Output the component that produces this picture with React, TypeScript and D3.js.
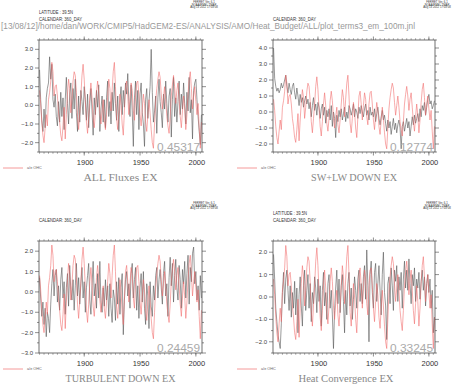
import React from "react";
import * as d3 from "d3";

const YEARS: number[] = d3.range(1860, 2006);

const OHC: number[] = [
  0.8, 0.1, -0.9, -1.6, -2.0, -1.2, -0.5, -1.1, 0.3, 0.7,
  1.3, 2.3, 1.8, 0.5, 1.0, 1.1, 0.5, -0.4, -0.9, -1.6,
  -1.9, -1.1, -0.1, -1.8, -0.5, 0.6, 1.4, 0.9, -0.4, 0.3,
  1.3, 1.8, 1.6, 0.7, -0.6, -1.3, -0.4, 0.5, 1.6, 2.2,
  1.4, 0.2, -0.9, -1.5, -0.6, 0.5, 1.2, 0.4, -0.7, -1.2,
  -0.4, 0.7, 1.3, 0.7, -0.4, -1.0, -0.3, 0.3, -0.8, -1.3,
  -0.5, 0.5, 1.4, 0.9, -0.3, 0.8, 1.8, 2.3, 1.0, -0.7,
  -1.3, -0.4, 0.6, 0.0, -1.0, -1.6, -0.3, 1.0, 1.3, 0.5,
  -0.5, 0.4, 1.2, 0.8, -0.3, -0.8, 0.5, 1.2, 1.3, 0.5,
  -0.5, -1.1, -0.2, 0.6, 0.1, -0.9, -1.4, -0.5, 0.3, -0.4,
  -1.3, -2.0, -2.3, -1.0, 0.2, 0.9, 1.4, 1.8, 1.5, 0.6,
  -0.2, 0.4, 1.0, 0.3, -0.6, -1.1, -1.5, -0.6, 0.5, 1.1,
  1.6, 1.0, 0.1, 0.8, 1.2, 0.3, -0.6, -1.2, -0.3, 0.5,
  -0.2, -1.3, -0.5, 0.6, 1.4, 1.8, 0.9, -0.2, 0.5, 1.0,
  0.2, -0.5, 0.1, -1.2, -2.3, -0.9,
];

const ALL_FLUXES: number[] = [
  1.9, 0.3, -0.8, -1.4, -0.2, -1.2, 0.4, 0.9, 1.2, 2.6,
  1.4, 2.2, 0.3, -0.1, 0.6, -0.6, -1.1, 0.2, -0.9, 0.7,
  -0.6, 0.4, -1.3, 0.3, 1.5, 0.1, -1.0, 0.6, 1.2, -0.7,
  0.9, -0.2, 1.4, -0.4, -1.4, 0.5, -0.9, 0.8, 0.2, -0.5,
  1.0, 0.3, -0.8, 0.6, -1.2, 0.1, 0.9, -0.3, -1.6, 0.4,
  -0.5, 0.8, -0.1, 1.1, -1.4, -0.2, 0.5, -0.9, 0.3, -1.2,
  0.4, 1.3, -0.6, 0.2, -1.0, 0.7, -0.3, 1.2, 0.1, -0.8,
  0.5, -1.4, 0.3, 1.0, -0.5, 0.8, -0.1, 1.2, 0.6, 1.7,
  0.2, -0.6, 1.1, -0.3, -2.2, 0.4, 1.3, -0.5, 0.8, -1.3,
  0.6, 1.2, -0.4, -1.0, -2.2, 0.3, 0.9, -0.7, 0.2, 1.0,
  3.0, 0.7, -0.9, -0.3, 0.5, -1.5, 0.4, 1.4, 0.2, -0.4,
  -1.2, 0.6, -0.2, 1.3, 0.1, -0.9, 0.5, 0.9, -1.7, 0.3,
  1.5, -0.6, 0.4, -0.9, 0.2, 1.3, -0.5, 0.6, -0.2, 1.2,
  0.1, -1.0, 0.7, -0.3, 1.5, -0.4, 0.3, -1.8, 0.8, 1.2,
  1.4, 0.3, -0.6, -1.4, -2.1, -0.5,
];

const SW_LW: number[] = [
  4.0, 2.1, 1.6, 1.3, 1.5, 1.2, 1.4, 1.8, 1.5, 1.7,
  2.0, 2.3, 1.6, 1.2, 1.8, 1.4, 1.1, 1.6, 1.8, 1.2,
  0.8, 1.5, 1.0, 0.4, 1.1, 0.6, 0.9, 0.3, 0.7, 1.0,
  0.5, 0.8, 0.2, 0.6, -0.3, 0.4, 0.9, 0.1, 0.5, -0.2,
  0.6, 0.3, -0.4, 0.2, 0.5, -0.2, 0.3, -0.7, 0.1, -0.3,
  0.2, -0.5, 0.4, -0.9, 0.0, -0.4, -1.6, -0.2, -0.6, 0.1,
  -0.3, 0.2, -0.5, -0.1, 0.3, -0.6, 0.0, -0.4, 0.4, 0.2,
  -0.2, 0.1, 0.5, -0.3, 0.2, 0.0, -0.4, 0.3, -0.1, 0.4,
  0.0, -0.3, 0.2, 0.5, -0.2, 0.1, -0.5, 0.3, -0.2, 0.0,
  -0.3, 0.2, -0.6, -0.1, 0.3, -0.4, -0.8, -0.3, 0.1, -0.5,
  -0.2, -0.7, -1.2, -0.5, -1.0, -0.6, -1.4, -0.9, -0.4, -1.1,
  -0.7, -1.3, -0.8, -0.5, -1.0, -2.3, -0.9, -0.6, -1.2, -0.8,
  -0.4, -1.0, -0.6, -1.5, -0.9, -0.3, -0.8, -0.2, -0.7, -0.4,
  -0.1, -0.6, 0.2, -0.3, 0.4, 0.1, 0.6, -0.2, 0.3, 0.8,
  1.1, 0.5, 0.7, 0.2, 0.4, 0.7,
];

const TURBULENT: number[] = [
  0.7, -0.3, -1.2, -0.5, -1.6, -0.8, -2.2, -1.0, -1.3, -2.0,
  -0.6, 0.4, 1.1, -0.2, 0.8, 1.1, -0.5, 0.3, -0.9, 0.6,
  1.2, -0.3, 0.5, -1.1, 0.2, 0.9, -0.7, 1.3, 0.1, -0.4,
  0.6, -0.9, 0.3, 1.4, -0.2, 0.7, -0.6, 0.4, 1.2, -0.3,
  0.5, -1.0, 0.2, 0.8, 1.4, -0.4, -1.1, 0.3, 1.5, -0.2,
  0.4, -0.8, 0.9, -0.3, 1.5, -0.5, -1.0, 0.2, -0.7, 0.6,
  -0.4, 0.3, -1.2, 0.4, -0.8, -1.5, 0.1, -0.3, -1.4, 0.5,
  -0.6, 0.7, -1.1, 0.2, 0.9, -2.1, -0.4, 0.6, 1.0, -0.2,
  0.4, -0.8, 0.9, 1.4, -0.3, 0.6, 1.2, -0.9, 0.3, -1.3,
  0.2, 0.9, -0.5, 1.0, -0.8, -1.6, 0.4, -0.2, -1.8, 0.5,
  -0.7, -1.2, 0.3, -0.4, 0.8, 1.2, -0.3, 0.6, 1.1, 0.2,
  -0.6, 0.9, 1.5, -0.2, 0.4, -1.2, 0.7, 1.7, 0.3, 1.4,
  -0.5, 0.8, 1.6, 0.2, -0.4, 1.3, 0.6, -0.8, 1.1, 0.4,
  1.5, -0.3, 0.9, 1.8, -0.6, 1.2, 0.5, 1.9, 2.2, 0.4,
  1.0, -0.4, 0.3, -0.9, 0.8, -0.3,
];

const HEAT_CONV: number[] = [
  1.9, 0.8, -0.5, -1.1, -1.7, -2.0, -2.3, -1.2, 0.2, 1.1,
  -0.3, 0.8, 1.2, 0.3, -0.6, 0.5, -0.9, 0.2, -0.5, 0.7,
  -0.8, 0.4, -1.6, 0.1, 0.9, -0.4, -1.3, 0.5, 1.2, -0.6,
  0.3, 1.0, -0.5, 0.6, -1.1, 0.2, -0.3, 0.9, 0.4, -0.7,
  0.8, -0.2, 0.5, -1.3, 0.3, 1.1, -0.4, 0.2, -1.0, 0.6,
  1.0, -0.5, 0.3, -0.8, -2.3, -0.6, 0.4, 1.2, -0.3, 0.8,
  -0.7, 0.5, 1.0, -0.2, -1.6, 0.3, -0.8, 0.6, 1.1, -0.4,
  0.4, -1.0, -0.1, 0.9, 0.3, -0.5, 0.8, 1.2, -0.2, 0.6,
  -0.3, 0.9, 1.4, -0.1, 2.1, 0.5, -2.0, 1.0, 1.6, 0.2,
  -0.5, 1.1, 1.5, -0.2, 0.6, 1.4, 0.3, -0.8, 1.0, 2.0,
  0.2, -0.4, -1.9, 0.6, 0.9, -0.3, 1.3, 0.5, -0.6, 1.2,
  0.7, 1.4, -0.2, 0.9, 0.3, 1.1, -0.5, 0.8, 1.6, 0.4,
  1.2, 0.3, 1.7, 0.6, -0.3, 1.0, 0.5, 1.3, -0.2, 0.8,
  0.4, 1.1, -0.1, 0.7, 1.2, 0.3, 0.9, -0.4, 0.6, 1.0,
  0.2, 0.8, -0.5, 0.3, -1.6, -0.9,
];

const TITLES: string[] = ["ALL Fluxes EX", "SW+LW DOWN EX", "TURBULENT DOWN EX", "Heat Convergence EX"];
const CORRELATIONS: string[] = ["0.45317", "0.12774", "0.24459", "0.33245"];
const Y_DOMAINS: [number, number][] = [[-2.5, 3.5], [-2.5, 4.5], [-3.0, 2.5], [-2.5, 2.5]];
const SERIES: number[][] = [ALL_FLUXES, SW_LW, TURBULENT, HEAT_CONV];
const SHOW_LATITUDE: boolean[] = [true, false, false, true];
const YEAR_LABELS: number[] = [1900, 1950, 2000];
const LEGEND_LABEL = "a/e OHC";
const PATH_TEXT = "[13/08/12]/home/dan/WORK/CMIP5/HadGEM2-ES/ANALYSIS/AMO/Heat_Budget/ALL/plot_terms3_em_100m.jnl";
const STAMP: string[] = ["FERRET Ver. 6.1", "NOAA/PMEL TMAP", "Aug 13 2012 17:03:08"];

const W = 452;
const H = 384;
const COLS = [{ left: 39, right: 202 }, { left: 273, right: 435 }];
const ROWS = [{ top: 40, bottom: 152 }, { top: 241, bottom: 353 }];
const TITLE_WIDTH = [74, 86, 110, 95];
const TITLE_SHIFT = [0, 0, 0, -8];
const SANS = "'Liberation Sans', Arial, sans-serif";
const SERIF = "'Liberation Serif', 'Times New Roman', serif";

function Panel({ idx }: { idx: number }) {
  const col = COLS[idx % 2];
  const row = ROWS[Math.floor(idx / 2)];
  const off = row.top - 40;
  const x = d3.scaleLinear().domain([1859.5, 2005.5]).range([col.left, col.right]);
  const y = d3.scaleLinear().domain(Y_DOMAINS[idx]).range([row.bottom, row.top]);
  const line = d3.line<number>().x((_, i) => x(YEARS[i])).y((d) => y(d));
  const [y0, y1] = Y_DOMAINS[idx];
  const halfTicks = d3.range(Math.ceil(y0 * 2), Math.floor(y1 * 2) + 1).map((v) => v / 2);
  const minorYears = d3.range(1860, 2006, 4);
  const cx = (col.left + col.right) / 2 + TITLE_SHIFT[idx];
  const stampX = col.right + 2;
  const legendX = col.left - 36;
  return (
    <g>
      {STAMP.map((s, i) => (
        <text key={s} x={stampX} y={off + 3 + i * 2.7} fontSize={2.8} fontFamily={SANS} fill="#333"
          textAnchor="middle">{s}</text>
      ))}
      {SHOW_LATITUDE[idx] && (
        <text x={col.left} y={off + 14} fontSize={5} fontFamily={SANS} fill="#333" textLength={34}
          lengthAdjust="spacingAndGlyphs">LATITUDE : 39.5N</text>
      )}
      <text x={col.left} y={off + 21} fontSize={5} fontFamily={SANS} fill="#333" textLength={43}
        lengthAdjust="spacingAndGlyphs">CALENDAR: 360_DAY</text>

      <path d={line(SERIES[idx]) || ""} fill="none" stroke="#555" strokeWidth={0.6} />
      <path d={line(OHC) || ""} fill="none" stroke="#f06a6a" strokeOpacity={0.75} strokeWidth={0.75} />

      <rect x={col.left} y={row.top} width={col.right - col.left} height={row.bottom - row.top}
        fill="none" stroke="#333" strokeWidth={0.7} />
      {halfTicks.map((v) => {
        const major = Math.abs(v - Math.round(v)) < 1e-6;
        const len = major ? 4 : 2;
        return (
          <g key={v}>
            <line x1={col.left - len} x2={col.left} y1={y(v)} y2={y(v)} stroke="#444" strokeWidth={0.6} />
            <line x1={col.right} x2={col.right + len} y1={y(v)} y2={y(v)} stroke="#444" strokeWidth={0.6} />
            {major && (
              <text x={col.left - 6} y={y(v) + 2} fontSize={6} fontFamily={SANS} fill="#444"
                textAnchor="end">{d3.format(".1f")(v)}</text>
            )}
          </g>
        );
      })}
      {minorYears.map((yr) => (
        <g key={yr}>
          <line x1={x(yr)} x2={x(yr)} y1={row.top} y2={row.top - 1.8} stroke="#555" strokeWidth={0.5} />
          <line x1={x(yr)} x2={x(yr)} y1={row.bottom} y2={row.bottom + 1.8} stroke="#555" strokeWidth={0.5} />
        </g>
      ))}
      {YEAR_LABELS.map((yr) => (
        <g key={yr}>
          <line x1={x(yr)} x2={x(yr)} y1={row.top} y2={row.top - 3.5} stroke="#444" strokeWidth={0.6} />
          <line x1={x(yr)} x2={x(yr)} y1={row.bottom} y2={row.bottom + 3.5} stroke="#444" strokeWidth={0.6} />
          <text x={x(yr) + 1} y={row.bottom + 12.5} fontSize={7.5} fontFamily={SANS} fill="#333"
            textAnchor="middle">{yr}</text>
        </g>
      ))}

      <text x={col.right - 2} y={row.bottom - 1.5} fontSize={10} fontFamily={SANS} fill="#aaa"
        textAnchor="end" textLength={43} lengthAdjust="spacingAndGlyphs">{CORRELATIONS[idx]}</text>

      <line x1={legendX} x2={legendX + 20} y1={row.bottom + 16} y2={row.bottom + 16} stroke="#f28080"
        strokeWidth={0.8} />
      <text x={legendX + 24} y={row.bottom + 17.3} fontSize={3.8} fontFamily={SANS} fill="#666">{LEGEND_LABEL}</text>

      <text x={cx} y={row.bottom + 29} fontSize={11} fontFamily={SERIF} fill="#888" textAnchor="middle"
        textLength={TITLE_WIDTH[idx]} lengthAdjust="spacingAndGlyphs">{TITLES[idx]}</text>
    </g>
  );
}

export default function App() {
  return (
    <svg width={W} height={H} style={{ position: "absolute", left: 0, top: 0, background: "#fff" }}>
      <rect width={W} height={H} fill="#fff" />
      <text x={1} y={28.5} fontSize={8.5} fontFamily={SANS} fill="#999" textLength={414}
        lengthAdjust="spacingAndGlyphs">{PATH_TEXT}</text>
      {[0, 1, 2, 3].map((i) => (
        <Panel key={i} idx={i} />
      ))}
    </svg>
  );
}
